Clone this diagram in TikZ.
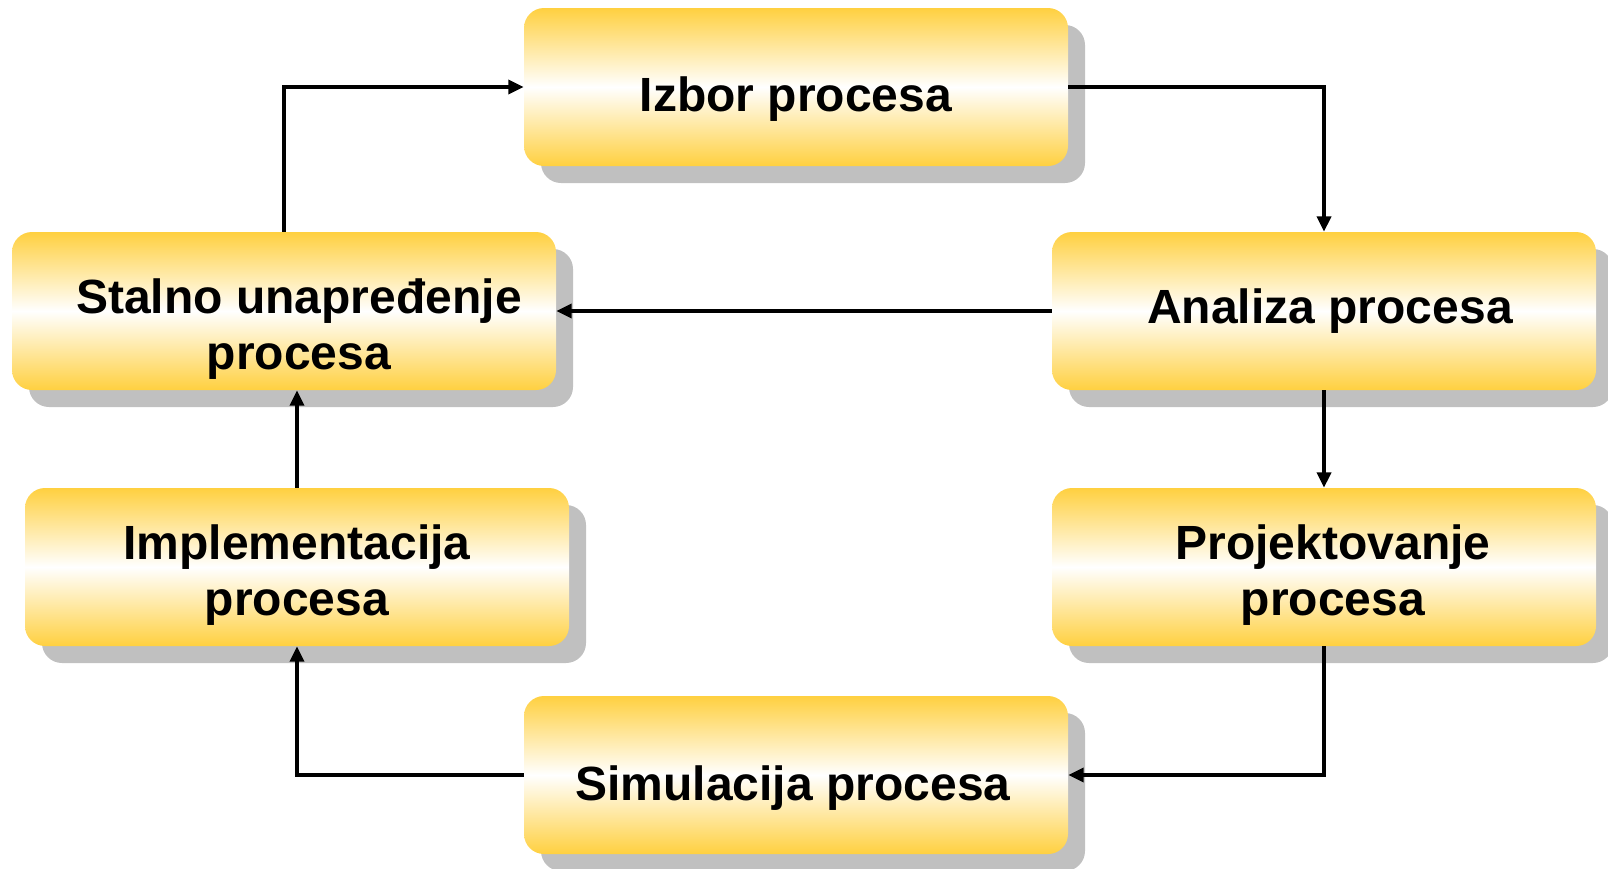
\documentclass[tikz,border=0pt]{standalone}
\usepackage{fontspec}
\setmainfont{Liberation Sans}
\usetikzlibrary{shadows,arrows.meta}
\definecolor{boxyellow}{HTML}{FFD040}
\definecolor{shadowgray}{HTML}{C0C0C0}
\tikzset{
  procbox/.style={rounded corners=15pt, minimum width=408pt, minimum height=118.5pt,
    top color=boxyellow, bottom color=boxyellow, middle color=white,
    draw=none,
    drop shadow={shadow xshift=12.75pt, shadow yshift=-12.75pt, fill=shadowgray, opacity=1}},
  lbl/.style={align=center, inner sep=0pt, font=\fontsize{36pt}{42pt}\selectfont\bfseries},
  arr/.style={-{Triangle[length=11.5pt,width=10.5pt]}, line width=2.6pt, black}
}
\begin{document}
\begin{tikzpicture}[x=0.75pt,y=-0.75pt]
\useasboundingbox (0,0) rectangle (1608,868);
\node[procbox] (izbor) at (796,87) {};
\node[procbox] (stalno) at (284,311) {};
\node[procbox] (analiza) at (1324,311) {};
\node[procbox] (impl) at (297,567) {};
\node[procbox] (proj) at (1324,567) {};
\node[procbox] (sim) at (796,775) {};
\node[lbl] (izborT) at ([shift={(0,12)}]izbor.center) {Izbor procesa};
\node[lbl] (stalnoT) at ([shift={(15,18)}]stalno.center) {Stalno unapređenje\\procesa};
\node[lbl] (analizaT) at ([shift={(6,0)}]analiza.center) {Analiza procesa};
\node[lbl] (implT) at ([shift={(0,8)}]impl.center) {Implementacija\\procesa};
\node[lbl] (projT) at ([shift={(9,8)}]proj.center) {Projektovanje\\procesa};
\node[lbl] (simT) at ([shift={(-3,13)}]sim.center) {Simulacija procesa};
\draw[arr] (stalno.north) |- (izbor.west);
\draw[arr] (izbor.east) -| (analiza.north);
\draw[arr] (analiza.west) -- (stalno.east);
\draw[arr] (analiza.south) -- (proj.north);
\draw[arr] (proj.south) |- (sim.east);
\draw[arr] (sim.west) -| (impl.south);
\draw[arr] (impl.north) -- (impl.north |- stalno.south);
\end{tikzpicture}
\end{document}
